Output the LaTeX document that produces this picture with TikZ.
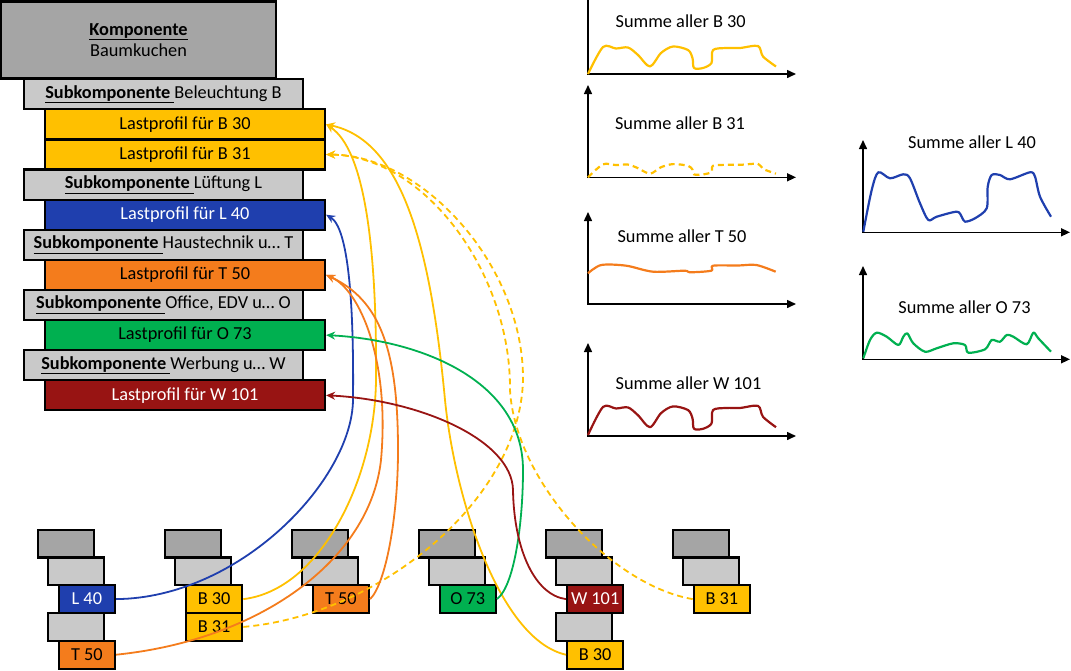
\documentclass[tikz,border=0pt]{standalone}
\usepackage{fontspec}
\setmainfont{Carlito}
\usepackage{tikz}
\usetikzlibrary{arrows.meta}
\definecolor{gelb}{HTML}{FFC000}
\definecolor{blau}{HTML}{1F3FAE}
\definecolor{orangeT}{HTML}{F47C1C}
\definecolor{gruen}{HTML}{00B050}
\definecolor{dunkelrot}{HTML}{981413}
\definecolor{grauD}{HTML}{A5A5A5}
\definecolor{grauH}{HTML}{C9C9C9}
\tikzstyle{box} = [draw=black, line width=2.2pt, rectangle, inner sep=0pt]
\tikzstyle{komponente} = [box, fill=grauD, minimum width=275pt, minimum height=77pt, align=center]
\tikzstyle{subkomp} = [box, fill=grauH, minimum width=279pt, minimum height=30.1pt]
\tikzstyle{lastprofil} = [box, minimum width=280pt, minimum height=30.1pt]
\tikzstyle{klein} = [box, minimum width=56.2pt, minimum height=27.8pt]
\tikzstyle{verbindung} = [line width=1.8pt, -{Stealth[length=9pt,width=8pt]}]
\tikzstyle{achse} = [line width=1.5pt, {Triangle[length=9pt,width=8pt]}-{Triangle[length=9pt,width=8pt]}]
\tikzstyle{kurve} = [line width=2.2pt, line join=round]
\newcommand{\profilB}[1]{\draw[kurve,#1] plot[smooth, tension=0.5] coordinates {(0,0) (15,-27) (28,-25.5) (40,-26.5) (50,-19) (62,-7.5) (73,-21) (85,-27.5) (100,-24) (104.5,-16) (106,-6) (115,-6) (123.5,-11) (125,-24) (138.5,-26) (152,-26) (170,-28) (175,-17.5) (188,-7.5)};}

\begin{document}
\begin{tikzpicture}[x=1pt, y=-1pt, font=\fontsize{18.3}{21.5}\selectfont]
	\useasboundingbox (0,0) rectangle (1071,670);
	% Komponente mit Subkomponenten
	\node[komponente] (komp) at (138.5,40) {\underline{\textbf{Komponente}}\\Baumkuchen};
	\node[subkomp] (subB) at (163.5,94.3) {\underline{\textbf{Subkomponente}\ }Beleuchtung B};
	\node[lastprofil, fill=gelb] (lpB30) at (185,124.4) {Lastprofil für B 30};
	\node[lastprofil, fill=gelb] (lpB31) at (185,154.5) {Lastprofil für B 31};
	\node[subkomp] (subL) at (163.5,184.6) {\underline{\textbf{Subkomponente}\ }Lüftung L};
	\node[lastprofil, fill=blau, text=white] (lpL40) at (185,214.7) {Lastprofil für L 40};
	\node[subkomp] (subT) at (163.5,244.8) {\underline{\textbf{Subkomponente}\ }Haustechnik u… T};
	\node[lastprofil, fill=orangeT] (lpT50) at (185,274.9) {Lastprofil für T 50};
	\node[subkomp] (subO) at (163.5,305) {\underline{\textbf{Subkomponente}\ }Office, EDV u… O};
	\node[lastprofil, fill=gruen] (lpO73) at (185,335.1) {Lastprofil für O 73};
	\node[subkomp] (subW) at (163.5,365.2) {\underline{\textbf{Subkomponente}\ }Werbung u… W};
	\node[lastprofil, fill=dunkelrot, text=white] (lpW101) at (185,395.3) {Lastprofil für W 101};

	% kleine Baeume unten
	\node[klein, fill=grauD] (g1a) at (65.85,543.5) {};
	\node[klein, fill=grauH] (g1b) at (75.85,571.3) {};
	\node[klein, fill=blau, text=white] (kL40) at (86.85,599.1) {L 40};
	\node[klein, fill=grauH] (g1c) at (75.85,626.9) {};
	\node[klein, fill=orangeT] (kT50a) at (86.85,654.7) {T 50};

	\node[klein, fill=grauD] (g2a) at (193.15,543.5) {};
	\node[klein, fill=grauH] (g2b) at (203.15,571.3) {};
	\node[klein, fill=gelb] (kB30a) at (214.15,599.1) {B 30};
	\node[klein, fill=gelb] (kB31a) at (214.15,626.9) {B 31};

	\node[klein, fill=grauD] (g3a) at (319.85,543.5) {};
	\node[klein, fill=grauH] (g3b) at (329.85,571.3) {};
	\node[klein, fill=orangeT] (kT50b) at (340.85,599.1) {T 50};

	\node[klein, fill=grauD] (g4a) at (446.85,543.5) {};
	\node[klein, fill=grauH] (g4b) at (456.85,571.3) {};
	\node[klein, fill=gruen] (kO73) at (467.85,599.1) {O 73};

	\node[klein, fill=grauD] (g5a) at (574.15,543.5) {};
	\node[klein, fill=grauH] (g5b) at (584.15,571.3) {};
	\node[klein, fill=dunkelrot, text=white] (kW101) at (595.15,599.1) {W 101};
	\node[klein, fill=grauH] (g5c) at (584.15,626.9) {};
	\node[klein, fill=gelb] (kB30b) at (595.15,654.7) {B 30};

	\node[klein, fill=grauD] (g6a) at (700.85,543.5) {};
	\node[klein, fill=grauH] (g6b) at (710.85,571.3) {};
	\node[klein, fill=gelb] (kB31b) at (721.85,599.1) {B 31};

	% Summenprofile
	\draw[line width=1.5pt, -{Triangle[length=9pt,width=8pt]}] (588,0) -- (588,74) -- (796,74);
	\draw[achse] (588,85) -- (588,177.3) -- (796,177.3);
	\draw[achse] (588,212) -- (588,304) -- (796,304);
	\draw[achse] (588,343) -- (588,436) -- (796,436);
	\draw[achse] (863,140) -- (863,232.3) -- (1070,232.3);
	\draw[achse] (863,266) -- (863,359.3) -- (1070,359.3);
	\node (sB30) at (680.7,21) {Summe aller B 30};
	\node (sB31) at (680,123.7) {Summe aller B 31};
	\node (sT50) at (682,236.7) {Summe aller T 50};
	\node (sW101) at (688.5,383.3) {Summe aller W 101};
	\node (sL40) at (972,142.7) {Summe aller L 40};
	\node (sO73) at (964.5,307.3) {Summe aller O 73};
	\begin{scope}[shift={(588,74)}]
		\profilB{gelb}
	\end{scope}
	\begin{scope}[shift={(588,177.3)}, yscale=0.48]
		\profilB{gelb, dash pattern=on 6pt off 4pt}
	\end{scope}
	\begin{scope}[shift={(588,435)}, yscale=1.04]
		\profilB{dunkelrot}
	\end{scope}
	\begin{scope}[shift={(588,304)}]
		\draw[kurve, orangeT] plot[smooth, tension=0.5] coordinates {(0,-30.7) (13.3,-39) (38.3,-38.3) (65,-32.3) (96.7,-33.3) (101.7,-31.7) (123.3,-33.3) (125,-38.3) (150,-38.5) (168.3,-39) (187.7,-32.3)};
	\end{scope}
	\begin{scope}[shift={(863.3,232.3)}]
		\draw[kurve, blau] plot[smooth, tension=0.5] coordinates {(0,-0.6) (8.4,-42.3) (15,-60) (26.7,-54) (40,-58) (46.7,-54) (56.7,-29) (65,-12.3) (73.4,-15.6) (93.4,-20.6) (98.4,-15.6) (101.7,-10.6) (111.7,-14) (123.4,-24) (124.4,-45.6) (128.4,-57.3) (136.7,-57.3) (146.7,-53) (166.7,-60) (171.7,-55.6) (176.7,-35.6) (187.7,-15.6)};
	\end{scope}
	\begin{scope}[shift={(863.3,359.3)}]
		\draw[kurve, gruen] plot[smooth, tension=0.5] coordinates {(0,-1) (6.7,-19.3) (13.4,-26.6) (23.4,-22.6) (35,-14.3) (40,-22.6) (44,-26) (50,-16) (61.7,-7.6) (73.4,-11) (90,-16) (101.7,-14.3) (105,-6.6) (121.7,-10) (128.4,-19.3) (136.7,-17.6) (143.4,-24.3) (150,-22.6) (163.4,-15) (170,-26.6) (175,-21) (187.7,-7.6)};
	\end{scope}

	% Zuordnung der Lastprofile
	\draw[verbindung, blau] (kL40.east) .. controls (240,598) and (352,480) .. (353,400) .. controls (354,300) and (348,228) .. (lpL40.east);
	\draw[verbindung, gelb] (kB30a.east) .. controls (320,590) and (375,480) .. (376,380) .. controls (377,250) and (365,150) .. (lpB30.east);
	\draw[verbindung, gelb] (kB30b.west) .. controls (500,640) and (455,500) .. (445,400) .. controls (430,240) and (400,140) .. (lpB30.east);
	\draw[verbindung, gelb, dash pattern=on 6pt off 4pt] (kB31a.east) .. controls (380,615) and (520,500) .. (523,380) .. controls (524,267) and (424,155) .. (lpB31.east);
	\draw[verbindung, gelb, dash pattern=on 6pt off 4pt] (kB31b.west) .. controls (610,585) and (515,480) .. (510,390) .. controls (511,272) and (424,156) .. (lpB31.east);
	\draw[verbindung, orangeT] (kT50a.east) .. controls (260,640) and (370,560) .. (381,460) .. controls (390,360) and (360,290) .. (lpT50.east);
	\draw[verbindung, orangeT] (kT50b.east) .. controls (385,585) and (398,520) .. (398,450) .. controls (398,350) and (380,300) .. (lpT50.east);
	\draw[verbindung, gruen] (kO73.east) .. controls (515,585) and (523,520) .. (523,470) .. controls (523,380) and (420,340) .. (lpO73.east);
	\draw[verbindung, dunkelrot] (kW101.west) .. controls (535,595) and (514,550) .. (513,490) .. controls (512,440) and (420,400) .. (lpW101.east);
\end{tikzpicture}
\end{document}
